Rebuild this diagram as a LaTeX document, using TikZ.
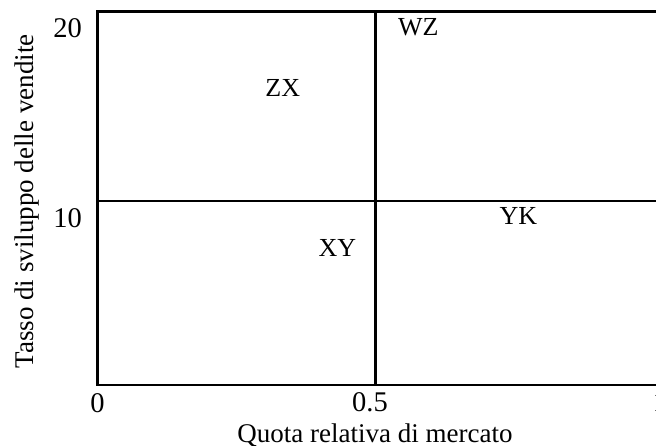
\documentclass[tikz,border=0pt]{standalone}
\usepackage{fontspec}
\setmainfont{Liberation Serif}
\begin{document}
\begin{tikzpicture}[x=1pt,y=-1pt,
  axisline/.style={line width=2.6pt},
  lbl/.style={font=\fontsize{26}{30}\selectfont, inner sep=0pt, anchor=base},
  ticklbl/.style={font=\fontsize{28.5}{32}\selectfont, inner sep=0pt, anchor=base},
  titlelbl/.style={font=\fontsize{27}{31}\selectfont, inner sep=0pt, anchor=base},
  ]
\useasboundingbox (0,0) rectangle (656,446);
\clip (0,0) rectangle (656,446);
% frame corners
\coordinate (tl) at (97.3,11.3);
\coordinate (bl) at (97.3,385);
\coordinate (tr) at (662,11.3);
\coordinate (br) at (662,385);
\coordinate (vt) at (375.7,11.3);
\coordinate (vb) at (375.7,385);
\coordinate (hl) at (97.3,201);
\coordinate (hr) at (662,201);
\draw[axisline] (tr) -- (tl) -- (bl) -- (br) -- cycle;
\draw[axisline] (vt) -- (vb);
\draw[axisline] (hl) -- (hr);
% tick labels
\node[ticklbl] (t20) at (67.5,38) {20};
\node[ticklbl] (t10) at (67.5,228) {10};
\node[ticklbl] (x0) at (97.5,412) {0};
\node[ticklbl] (x05) at (370,411) {0.5};
\node[ticklbl] (x1) at (660,411) {1};
% axis titles
\node[titlelbl] (xt) at (375,442) {Quota relativa di mercato};
\node[titlelbl, rotate=90] (yt) at (33,201.5) {Tasso di sviluppo delle vendite};
% quadrant labels
\node[lbl] (wz) at (418.3,36) {WZ};
\node[lbl] (zx) at (282.7,96.7) {ZX};
\node[lbl] (yk) at (518.3,225) {YK};
\node[lbl] (xy) at (337.3,256.7) {XY};
\end{tikzpicture}
\end{document}
